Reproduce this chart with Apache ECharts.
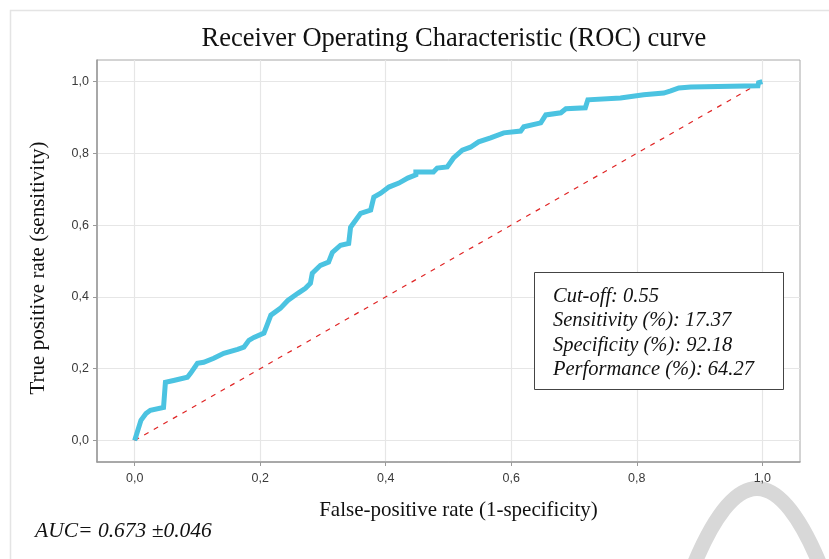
<!DOCTYPE html>
<html>
<head>
<meta charset="utf-8">
<script src="https://cdn.jsdelivr.net/npm/echarts@6/dist/echarts.min.js"></script>
<style>
html,body{margin:0;padding:0;background:#fff;}
#chart{width:829px;height:559px;}
</style>
</head>
<body>
<div id="chart"></div>
<script>
// ROC curve points (false-positive rate, true-positive rate)
const fpr = [0.000,0.010,0.018,0.025,0.046,0.049,0.062,0.084,0.089,0.100,0.110,0.126,0.142,0.164,0.174,0.182,0.190,0.206,0.212,0.217,0.232,0.244,0.260,0.272,0.280,0.283,0.296,0.309,0.315,0.328,0.341,0.344,0.360,0.376,0.381,0.392,0.405,0.421,0.435,0.448,0.448,0.476,0.482,0.498,0.508,0.522,0.535,0.548,0.567,0.588,0.615,0.620,0.647,0.655,0.679,0.687,0.718,0.722,0.774,0.811,0.843,0.854,0.867,0.886,0.993,0.994,1.000];
const tpr = [0.000,0.056,0.075,0.084,0.092,0.162,0.167,0.176,0.187,0.215,0.218,0.229,0.243,0.254,0.260,0.279,0.287,0.299,0.326,0.349,0.368,0.390,0.410,0.424,0.438,0.466,0.488,0.497,0.524,0.544,0.549,0.594,0.633,0.642,0.678,0.689,0.706,0.717,0.731,0.740,0.748,0.748,0.759,0.762,0.787,0.809,0.817,0.832,0.843,0.857,0.862,0.874,0.885,0.907,0.913,0.924,0.927,0.949,0.954,0.963,0.968,0.974,0.982,0.985,0.988,0.997,1.000];
const diagX = [0, 1];
const diagY = [0, 1];
const tickValues = [0, 0.2, 0.4, 0.6, 0.8, 1.0];
const titleText = 'Receiver Operating Characteristic (ROC) curve';
const xName = 'False-positive rate (1-specificity)';
const yName = 'True positive rate (sensitivity)';
const boxLines = ['Cut-off: 0.55', 'Sensitivity (%): 17.37', 'Specificity (%): 92.18', 'Performance (%): 64.27'];
const aucText = 'AUC= 0.673 \u00b10.046';

const rocData = fpr.map((x, i) => [x, tpr[i]]);
const diagData = diagX.map((x, i) => [x, diagY[i]]);
const fmt = v => (Math.round(v * 10) / 10).toFixed(1).replace('.', ',');

const serif = '"Liberation Serif", "Times New Roman", serif';
const sans = '"Liberation Sans", Arial, sans-serif';

const chart = echarts.init(document.getElementById('chart'));
const axisCommon = {
  type: 'value',
  min: -0.06,
  max: 1.06,
  splitNumber: 5,
  axisLine: { show: true, onZero: false, lineStyle: { color: '#9a9a9a', width: 1.5 } },
  axisTick: { show: true, length: 4, customValues: tickValues, lineStyle: { color: '#9a9a9a' } },
  axisLabel: { customValues: tickValues, formatter: fmt, color: '#3a3a3a', fontFamily: sans, fontSize: 12.5 },
  splitLine: { show: true, lineStyle: { color: '#e6e6e6', width: 1.2 } }
};
chart.setOption({
  animation: false,
  backgroundColor: '#fff',
  title: {
    text: titleText,
    left: 449, top: 21, textAlign: 'center',
    textStyle: { fontFamily: serif, fontWeight: 'normal', fontSize: 26.5, color: '#111' }
  },
  grid: {
    left: 97, right: 29, top: 60, bottom: 97,
    show: true, borderColor: '#a8a8a8', borderWidth: 1, backgroundColor: 'transparent'
  },
  xAxis: Object.assign({}, axisCommon, {
    name: xName, nameLocation: 'middle', nameGap: 38,
    nameTextStyle: { fontFamily: serif, fontSize: 21, color: '#111', padding: [0, 0, 0, 20] },
    axisLabel: Object.assign({}, axisCommon.axisLabel, { margin: 10 })
  }),
  yAxis: Object.assign({}, axisCommon, {
    name: yName, nameLocation: 'middle', nameGap: 48,
    nameTextStyle: { fontFamily: serif, fontSize: 21, color: '#111', padding: [0, 0, 0, -14] },
    axisLabel: Object.assign({}, axisCommon.axisLabel, { margin: 8 })
  }),
  series: [
    {
      type: 'line', data: diagData, symbol: 'none', z: 2,
      lineStyle: { color: '#e02525', width: 1.2, type: [5, 6] }
    },
    {
      type: 'line', data: rocData, symbol: 'none', z: 3,
      lineStyle: { color: '#4bc3e1', width: 5, join: 'miter' }
    }
  ],
  graphic: [
    {
      type: 'rect', left: 8, top: 8, z: -10, silent: true,
      shape: { width: 900, height: 700 },
      style: { fill: 'none', stroke: '#e4e4e4', lineWidth: 1.5 }
    },
    {
      type: 'bezierCurve', z: -5, silent: true,
      shape: { x1: 691, y1: 572, x2: 823, y2: 572, cpx1: 757, cpy1: 405 },
      style: { stroke: '#d8d8d8', lineWidth: 15, fill: 'none' }
    },
    {
      type: 'rect', left: 534, top: 272, z: 10,
      shape: { width: 249, height: 117 },
      style: { fill: '#fff', stroke: '#444', lineWidth: 1 }
    },
    {
      type: 'text', left: 553, top: 284, z: 11,
      style: {
        text: boxLines.join('\n'), fontFamily: serif, fontStyle: 'italic', fontSize: 20.5,
        lineHeight: 24.5, fill: '#111'
      }
    },
    {
      type: 'text', left: 35, top: 520, z: 11,
      style: { text: aucText, fontFamily: serif, fontStyle: 'italic', fontSize: 21.5, fill: '#111' }
    }
  ]
});
</script>
</body>
</html>
